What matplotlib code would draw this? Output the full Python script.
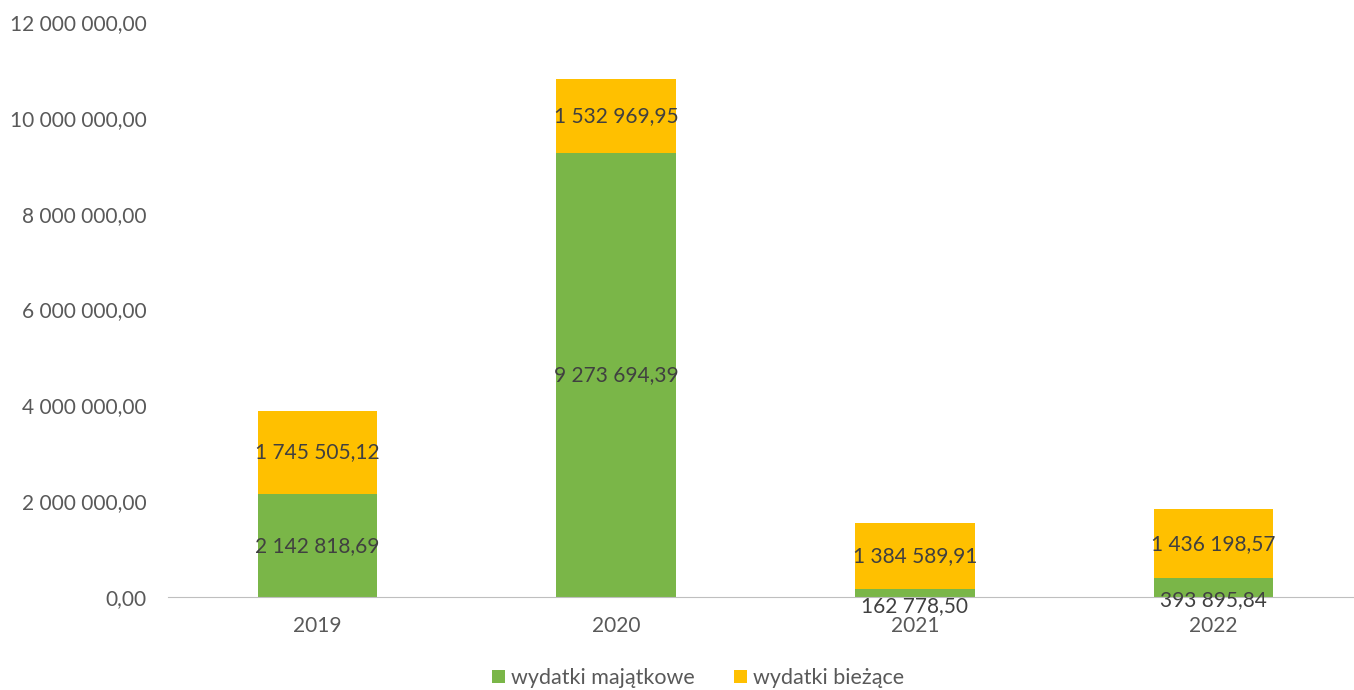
import matplotlib
matplotlib.use("Agg")
import matplotlib.pyplot as plt
import numpy as np

years = ["2019", "2020", "2021", "2022"]
majatkowe = [2142818.69, 9273694.39, 162778.50, 393895.84]
biezace = [1745505.12, 1532969.95, 1384589.91, 1436198.57]
series_names = ["wydatki majątkowe", "wydatki bieżące"]
yticks = [0, 2000000, 4000000, 6000000, 8000000, 10000000, 12000000]

GREEN = "#7AB648"
ORANGE = "#FFC000"
TICK_C = "#595959"
LAB_C = "#404040"

plt.rcParams['font.family'] = ['Lato', 'DejaVu Sans']

def fmt(v):
    s = f"{v:,.2f}"
    return s.replace(",", " ").replace(".", ",")

fig = plt.figure(figsize=(13.54, 6.9), dpi=100)
ax = fig.add_axes([168/1354, 93/690, 1195/1354, 575/690])
x = np.arange(len(years))
w = 0.4
ax.bar(x, majatkowe, w, color=GREEN, label=series_names[0], zorder=2)
ax.bar(x, biezace, w, bottom=majatkowe, color=ORANGE, label=series_names[1], zorder=2)

ax.set_xlim(-0.5, 3.5)
ax.set_ylim(0, 12000000)
ax.set_yticks(yticks)
ax.set_yticklabels([fmt(v) for v in yticks])
ax.set_xticks(x)
ax.set_xticklabels(years)
ax.tick_params(axis='both', length=0, labelsize=15, colors=TICK_C)
ax.tick_params(axis='x', pad=14)
ax.tick_params(axis='y', pad=15.5)
for sp in ['top', 'right', 'left']:
    ax.spines[sp].set_visible(False)
ax.spines['bottom'].set_color('#BFBFBF')
ax.spines['bottom'].set_zorder(3)

for i in range(len(years)):
    m = majatkowe[i]
    b = biezace[i]
    if m > 1000000:
        ax.text(x[i], m / 2, fmt(m), ha='center', va='center', fontsize=15, color=LAB_C, zorder=4)
    else:
        ax.annotate(fmt(m), (x[i], m / 2), xytext=(0, -9), textcoords='offset points',
                    ha='center', va='center', fontsize=15, color=LAB_C, zorder=4)
    ax.text(x[i], m + b / 2, fmt(b), ha='center', va='center', fontsize=15, color=LAB_C, zorder=4)

leg = fig.legend(loc='center', bbox_to_anchor=(698/1354, 1 - 678/690), ncol=2, frameon=False,
                 fontsize=15.5, handlelength=0.6, handleheight=0.6, handletextpad=0.3,
                 columnspacing=1.8)
for t in leg.get_texts():
    t.set_color(TICK_C)

fig.savefig("out.png", dpi=100)
